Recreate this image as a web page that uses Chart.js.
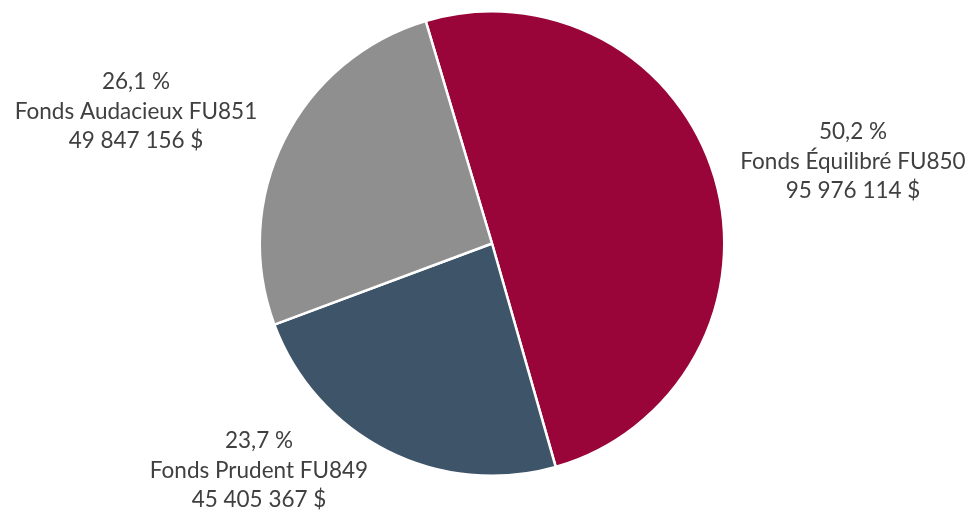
<!DOCTYPE html>
<html>
<head>
<meta charset="utf-8">
<script src="https://cdn.jsdelivr.net/npm/chart.js@4/dist/chart.umd.min.js"></script>
<style>
html,body{margin:0;padding:0;background:#fff;}
#wrap{width:977px;height:512px;position:relative;}
</style>
</head>
<body>
<div id="wrap"><canvas id="c" width="977" height="512"></canvas></div>
<script>
const categories = ["Fonds Équilibré FU850", "Fonds Prudent FU849", "Fonds Audacieux FU851"];
const amounts = [95976114, 45405367, 49847156];
const percentLabels = ["50,2 %", "23,7 %", "26,1 %"];
const amountLabels = ["95 976 114 $", "45 405 367 $", "49 847 156 $"];
const colors = ["#990538", "#3e5468", "#8f8f8f"];

// label block centers, offset from pie center (px)
const labelOffsets = [[361, -82], [-233, 227], [-356, -132]];

const outsideLabels = {
  id: 'outsideLabels',
  afterDatasetsDraw(chart) {
    const ctx = chart.ctx;
    const meta = chart.getDatasetMeta(0);
    ctx.save();
    ctx.font = '22.5px Lato, "Open Sans", sans-serif';
    ctx.fillStyle = '#404040';
    ctx.textAlign = 'center';
    ctx.textBaseline = 'middle';
    meta.data.forEach((arc, i) => {
      const cx = arc.x + labelOffsets[i][0];
      const cy = arc.y + labelOffsets[i][1];
      const lines = [percentLabels[i], categories[i], amountLabels[i]];
      lines.forEach((t, k) => ctx.fillText(t, cx, cy + (k - 1) * 29.5));
    });
    ctx.restore();
  }
};

new Chart(document.getElementById('c'), {
  type: 'pie',
  data: {
    labels: categories,
    datasets: [{
      data: amounts,
      backgroundColor: colors,
      borderColor: '#ffffff',
      borderWidth: 2.5
    }]
  },
  options: {
    responsive: false,
    animation: false,
    rotation: -16.6,
    layout: { padding: { top: 10, bottom: 35, left: 100, right: 93 } },
    plugins: {
      legend: { display: false },
      tooltip: { enabled: false }
    }
  },
  plugins: [outsideLabels]
});
</script>
</body>
</html>
